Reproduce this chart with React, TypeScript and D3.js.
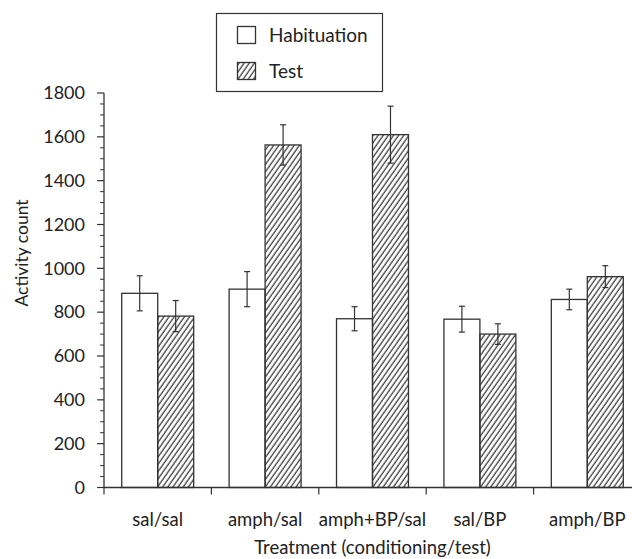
import React, { useEffect } from "react";
import * as d3 from "d3";

const categories = ["sal/sal", "amph/sal", "amph+BP/sal", "sal/BP", "amph/BP"];
const seriesNames = ["Habituation", "Test"];
const habituation = [886, 905, 770, 768, 858];
const habituationErr = [80, 80, 55, 59, 47];
const test = [782, 1563, 1610, 700, 962];
const testErr = [71, 92, 130, 47, 50];
const yTicks = [0, 200, 400, 600, 800, 1000, 1200, 1400, 1600, 1800];

const W = 632;
const H = 559;
const X0 = 104;
const X1 = 641;
const Y0 = 487.5;
const Y1 = 93;
const FONT = "Lato, 'Open Sans', sans-serif";
const INK = "#333";

export default function App() {
  useEffect(() => {
    document.body.style.margin = "0";
  }, []);

  const y = d3.scaleLinear().domain([0, 1800]).range([Y0, Y1]);
  const x = d3.scaleBand<string>().domain(categories).range([X0, X1]).paddingInner(0.33).paddingOuter(0.165);
  const xs = d3.scaleBand<string>().domain(seriesNames).range([0, x.bandwidth()]);
  const step = x.step();
  const minor = d3.range(0, 1801, 50).filter((v) => v % 200 !== 0);

  const series = [
    { name: "Habituation", vals: habituation, errs: habituationErr },
    { name: "Test", vals: test, errs: testErr },
  ];

  return (
    <svg width={W} height={H} style={{ display: "block" }} fontFamily={FONT}>
      <defs>
        <pattern id="hatch" patternUnits="userSpaceOnUse" width={4.2} height={10} patternTransform="rotate(35)">
          <line x1={1} y1={0} x2={1} y2={10} stroke={INK} strokeWidth={1.2} />
        </pattern>
      </defs>
      <rect width={W} height={H} fill="#fff" />

      {/* bars */}
      {series.map((s) =>
        categories.map((c, i) => {
          const bx = (x(c) as number) + (xs(s.name) as number);
          const bw = xs.bandwidth();
          return (
            <rect
              key={s.name + c}
              x={bx}
              y={y(s.vals[i])}
              width={bw}
              height={Y0 - y(s.vals[i])}
              fill={s.name === "Test" ? "url(#hatch)" : "#fff"}
              stroke={INK}
              strokeWidth={1.3}
            />
          );
        })
      )}

      {/* error bars */}
      {series.map((s) =>
        categories.map((c, i) => {
          const cx = (x(c) as number) + (xs(s.name) as number) + xs.bandwidth() / 2;
          const top = y(s.vals[i] + s.errs[i]);
          const bot = y(s.vals[i] - s.errs[i]);
          return (
            <g key={"e" + s.name + c} stroke={INK} strokeWidth={1.2}>
              <line x1={cx} x2={cx} y1={top} y2={bot} />
              <line x1={cx - 3} x2={cx + 3} y1={top} y2={top} />
              <line x1={cx - 3} x2={cx + 3} y1={bot} y2={bot} />
            </g>
          );
        })
      )}

      {/* y axis */}
      <line x1={X0} x2={X0} y1={Y1} y2={Y0} stroke={INK} strokeWidth={1.3} />
      {yTicks.map((t) => (
        <g key={"yt" + t}>
          <line x1={X0 - 7} x2={X0} y1={y(t)} y2={y(t)} stroke={INK} strokeWidth={1.2} />
          <text x={X0 - 19} y={y(t)} dy="0.35em" textAnchor="end" fontSize={18} fill="#222">
            {t}
          </text>
        </g>
      ))}
      {minor.map((t) => (
        <line key={"ym" + t} x1={X0 - 4} x2={X0} y1={y(t)} y2={y(t)} stroke={INK} strokeWidth={1} />
      ))}

      {/* x axis */}
      <line x1={X0} x2={X1} y1={Y0} y2={Y0} stroke={INK} strokeWidth={1.3} />
      {d3.range(0, categories.length + 1).map((i) => (
        <line key={"xt" + i} x1={X0 + i * step} x2={X0 + i * step} y1={Y0} y2={Y0 + 7} stroke={INK} strokeWidth={1.2} />
      ))}
      {categories.map((c) => (
        <text key={"xl" + c} x={(x(c) as number) + x.bandwidth() / 2} y={526} textAnchor="middle" fontSize={18.5} fill="#222">
          {c}
        </text>
      ))}
      <text x={(X0 + X1) / 2} y={554} textAnchor="middle" fontSize={18.5} fill="#222">
        Treatment (conditioning/test)
      </text>
      <text transform={`translate(28,253) rotate(-90)`} textAnchor="middle" fontSize={17.5} fill="#222">
        Activity count
      </text>

      {/* legend */}
      <rect x={216.5} y={13.5} width={166} height={78} fill="#fff" stroke={INK} strokeWidth={1.2} />
      <rect x={237.5} y={26.5} width={18} height={17} fill="#fff" stroke={INK} strokeWidth={1.3} />
      <text x={269} y={41.5} fontSize={19} fill="#222">Habituation</text>
      <rect x={237.5} y={62.5} width={18} height={17} fill="url(#hatch)" stroke={INK} strokeWidth={1.3} />
      <text x={269} y={77.5} fontSize={19} fill="#222">Test</text>
    </svg>
  );
}
